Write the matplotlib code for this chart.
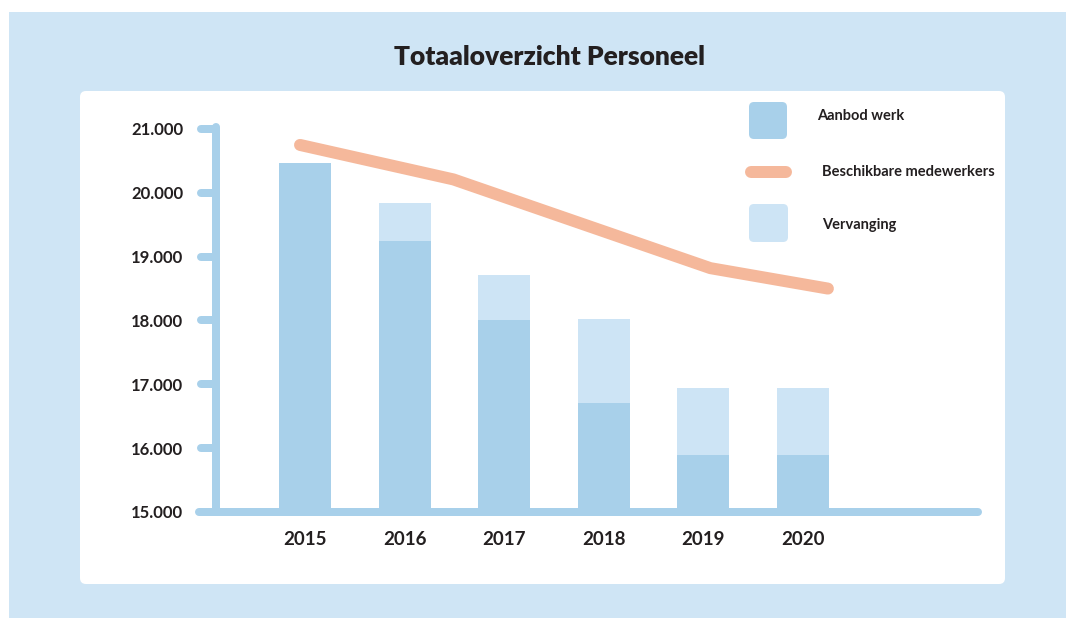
import matplotlib
matplotlib.use("Agg")
import matplotlib.pyplot as plt
from matplotlib.patches import FancyBboxPatch, Rectangle
from matplotlib.lines import Line2D

# ---------------- data ----------------
years = [2015, 2016, 2017, 2018, 2019, 2020]
aanbod_werk = [20470, 19240, 18000, 16700, 15900, 15900]
vervanging = [0, 600, 720, 1330, 1050, 1050]
line_years = [2014.95, 2016.49, 2019.07, 2020.25]
beschikbare_medewerkers = [20750, 20210, 18820, 18500]
ytick_values = [15000, 16000, 17000, 18000, 19000, 20000, 21000]
title = "Totaaloverzicht Personeel"
legend_labels = ["Aanbod werk", "Beschikbare medewerkers", "Vervanging"]

# ---------------- style ----------------
plt.rcParams["font.family"] = ["Lato", "DejaVu Sans"]
OUTER = "#cfe5f5"
DARK = "#a8d0ea"
LIGHT = "#cde4f5"
SALMON = "#f5b89b"
TEXT = "#231f20"
PX = 72 / 100  # points per pixel

W, H = 1068, 619
fig = plt.figure(figsize=(W / 100, H / 100), dpi=100)

# background / decoration layer in pixel coordinates
bg = fig.add_axes([0, 0, 1, 1], zorder=0)
bg.set_xlim(0, W)
bg.set_ylim(H, 0)
bg.axis("off")
bg.add_patch(Rectangle((9, 12), W - 11, H - 13, fc=OUTER, ec="none"))
bg.add_patch(FancyBboxPatch((80, 91), 925, 493,
                            boxstyle="round,pad=0,rounding_size=6",
                            fc="white", ec="none"))
bg.text(549, 57, title, ha="center", va="center", fontsize=19,
        fontweight="heavy", color=TEXT)

# legend
bg.add_patch(FancyBboxPatch((749, 102), 38, 37,
                            boxstyle="round,pad=0,rounding_size=5",
                            fc=DARK, ec="none"))
bg.add_line(Line2D([751, 786], [172, 172], color=SALMON, lw=12 * PX,
                   solid_capstyle="round"))
bg.add_patch(FancyBboxPatch((749, 204), 39, 38,
                            boxstyle="round,pad=0,rounding_size=5",
                            fc=LIGHT, ec="none"))
bg.text(817, 116, legend_labels[0], ha="left", va="center", fontsize=10.5,
        fontweight="bold", color=TEXT)
bg.text(822, 172, legend_labels[1], ha="left", va="center", fontsize=10.5,
        fontweight="bold", color=TEXT)
bg.text(822, 225, legend_labels[2], ha="left", va="center", fontsize=10.5,
        fontweight="bold", color=TEXT)

# ---------------- main chart ----------------
ax_left, ax_right, ax_bottom, ax_top = 216, 982, 512, 122.6
ax = fig.add_axes([ax_left / W, (H - ax_bottom) / H,
                   (ax_right - ax_left) / W, (ax_bottom - ax_top) / H],
                  zorder=1)
ax.set_facecolor("none")
step = 99.6  # pixels per year
ax.set_xlim(2015 + (ax_left - 305) / step, 2015 + (ax_right - 305) / step)
ax.set_ylim(15000, 21100)

base = ytick_values[0]
ax.bar(years, [a - base for a in aanbod_werk], bottom=base, width=0.522,
       color=DARK, zorder=2)
ax.bar(years, vervanging, bottom=aanbod_werk, width=0.522,
       color=LIGHT, zorder=2)
ax.plot(line_years, beschikbare_medewerkers, color=SALMON, lw=12 * PX,
        solid_capstyle="round", solid_joinstyle="round", zorder=3,
        clip_on=False)

for s in ax.spines.values():
    s.set_visible(False)

ax_w = ax_right - ax_left
ax_h = ax_bottom - ax_top
axis_lw = 8 * PX
# vertical axis
ax.add_line(Line2D([0, 0], [0, (ax_bottom - 127) / ax_h], transform=ax.transAxes,
                   color=DARK, lw=axis_lw, solid_capstyle="round",
                   clip_on=False, zorder=4))
# horizontal axis
ax.add_line(Line2D([(199 - ax_left) / ax_w, (978 - ax_left) / ax_w], [0, 0],
                   transform=ax.transAxes, color=DARK, lw=axis_lw,
                   solid_capstyle="round", clip_on=False, zorder=4))
# tick marks
ytr = ax.get_yaxis_transform()
for v in ytick_values:
    ax.add_line(Line2D([(201 - ax_left) / ax_w, 0], [v, v], transform=ytr,
                       color=DARK, lw=axis_lw, solid_capstyle="round",
                       clip_on=False, zorder=4))

ax.set_yticks(ytick_values,
              labels=[f"{v:,}".replace(",", ".") for v in ytick_values],
              fontweight="bold")
ax.tick_params(axis="y", length=0, pad=33 * PX, labelsize=12,
               labelcolor=TEXT)
ax.set_xticks(years, labels=[str(y) for y in years], fontweight="bold")
ax.tick_params(axis="x", length=0, pad=19 * PX, labelsize=13.5,
               labelcolor=TEXT)

fig.savefig("out.png", dpi=100)
